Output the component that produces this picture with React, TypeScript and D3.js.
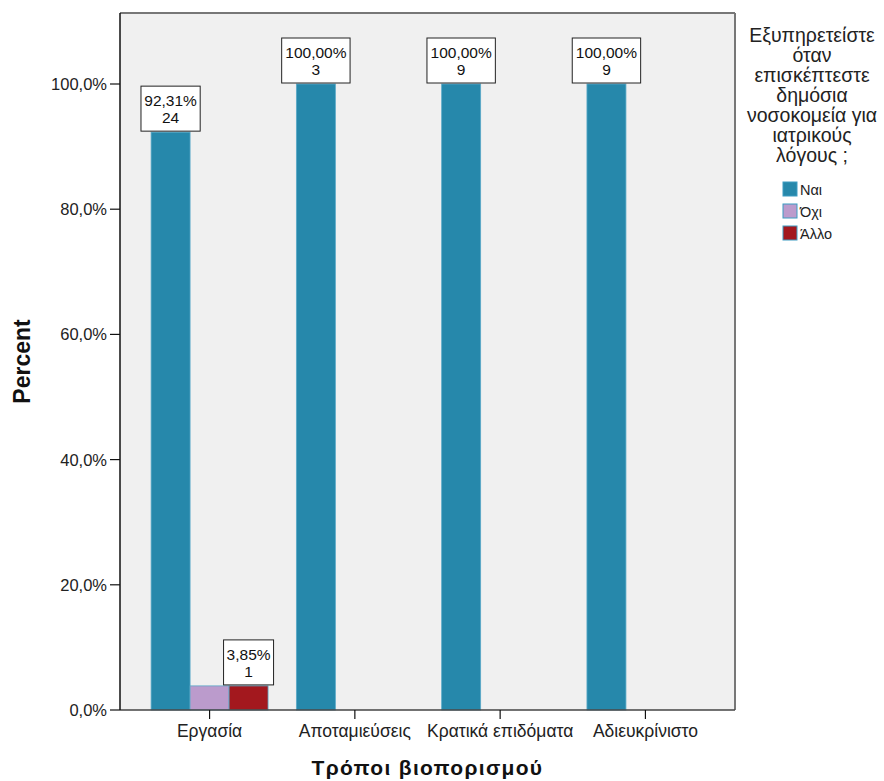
import React from 'react';
import * as d3 from 'd3';

const categories = ['Εργασία', 'Αποταμιεύσεις', 'Κρατικά επιδόματα', 'Αδιευκρίνιστο'];
const seriesNames = ['Ναι', 'Όχι', 'Άλλο'];
const seriesColors = ['#2688AB', '#BB9BCC', '#A3181E'];
const percentNai = [92.31, 100, 100, 100];
const percentOxi = [3.85, 0, 0, 0];
const percentAllo = [3.85, 0, 0, 0];
const countNai = [24, 3, 9, 9];
const countOxi = [1, 0, 0, 0];
const countAllo = [1, 0, 0, 0];
const labelNai = [true, true, true, true];
const labelOxi = [false, false, false, false];
const labelAllo = [true, false, false, false];
const yTicks = [0, 20, 40, 60, 80, 100];
const legendTitle = ['Εξυπηρετείστε', 'όταν', 'επισκέπτεστε', 'δημόσια', 'νοσοκομεία για', 'ιατρικούς', 'λόγους ;'];

const W = 884, H = 781;
const plotLeft = 120, plotRight = 735, plotTop = 13, plotBottom = 710;
const FONT = '"Liberation Sans", Arial, sans-serif';

const fmt = (v: number, d: number) => v.toFixed(d).replace('.', ',');

export default function App() {
  const y = d3.scaleLinear().domain([0, 100]).range([plotBottom, 84]);
  const x0 = d3.scaleBand<string>().domain(categories).range([plotLeft, plotRight]).paddingInner(0.195).paddingOuter(0.214);
  const x1 = d3.scaleBand<string>().domain(seriesNames).range([0, x0.bandwidth()]);
  const percents = [percentNai, percentOxi, percentAllo];
  const counts = [countNai, countOxi, countAllo];
  const labels = [labelNai, labelOxi, labelAllo];

  const bars: any[] = [];
  const boxes: any[] = [];
  categories.forEach((c, ci) => {
    seriesNames.forEach((s, si) => {
      const v = percents[si][ci];
      if (v <= 0) return;
      const bx = (x0(c) as number) + (x1(s) as number);
      const bw = x1.bandwidth();
      bars.push(
        <rect key={`b-${ci}-${si}`} x={bx} y={y(v)} width={bw} height={plotBottom - y(v)}
          fill={seriesColors[si]} stroke="#5aa9c8" strokeWidth={0.8} />
      );
      if (labels[si][ci]) {
        const t1 = fmt(v, 2) + '%';
        const t2 = String(counts[si][ci]);
        const tw = t1.length * 9.2 + 4;
        const cx = bx + bw / 2;
        const top = y(v) - 46;
        boxes.push(
          <g key={`l-${ci}-${si}`}>
            <rect x={cx - tw / 2} y={top} width={tw} height={45} fill="#fff" stroke="#222" strokeWidth={1} />
            <text x={cx} y={top + 20} textAnchor="middle" fontSize={15.5} fontFamily={FONT} fill="#111">{t1}</text>
            <text x={cx} y={top + 37} textAnchor="middle" fontSize={15.5} fontFamily={FONT} fill="#111">{t2}</text>
          </g>
        );
      }
    });
  });

  return (
    <svg width={W} height={H} style={{ position: 'absolute', left: 0, top: 0, background: '#fff' }}>
      <rect x={plotLeft} y={plotTop} width={plotRight - plotLeft} height={plotBottom - plotTop} fill="#F0F0F0" />
      <line x1={plotLeft} y1={plotTop} x2={plotRight} y2={plotTop} stroke="#777" strokeWidth={2} />
      <line x1={plotRight} y1={plotTop} x2={plotRight} y2={plotBottom} stroke="#777" strokeWidth={2} />
      {bars}
      <line x1={plotLeft} y1={plotBottom} x2={plotRight} y2={plotBottom} stroke="#444" strokeWidth={1.5} />
      <line x1={plotLeft} y1={plotTop} x2={plotLeft} y2={plotBottom} stroke="#111" strokeWidth={1.5} />
      {yTicks.map(t => (
        <g key={t}>
          <line x1={plotLeft - 10} x2={plotLeft} y1={y(t)} y2={y(t)} stroke="#111" strokeWidth={1.2} />
          <text x={plotLeft - 13} y={y(t) + 6} textAnchor="end" fontSize={16.5} fontFamily={FONT} fill="#222">{fmt(t, 1) + '%'}</text>
        </g>
      ))}
      {categories.map(c => {
        const cx = (x0(c) as number) + x0.bandwidth() / 2;
        return (
          <g key={c}>
            <line x1={cx} x2={cx} y1={plotBottom} y2={plotBottom + 9} stroke="#111" strokeWidth={1.2} />
            <text x={cx} y={plotBottom + 27} textAnchor="middle" fontSize={17.5} fontFamily={FONT} fill="#222">{c}</text>
          </g>
        );
      })}
      {boxes}
      <text transform={`translate(30,${(plotTop + plotBottom) / 2}) rotate(-90)`} textAnchor="middle" fontSize={23} fontWeight="bold" fontFamily={FONT} fill="#111">Percent</text>
      <text x={(plotLeft + plotRight) / 2} y={775} textAnchor="middle" fontSize={21} fontWeight="bold" fontFamily={FONT} fill="#111" letterSpacing={1.3}>Τρόποι βιοπορισμού</text>
      {legendTitle.map((l, i) => (
        <text key={l} x={812} y={42 + i * 20} textAnchor="middle" fontSize={19.5} fontFamily={FONT} fill="#222">{l}</text>
      ))}
      {seriesNames.map((s, i) => (
        <g key={s}>
          <rect x={783} y={182 + i * 22} width={14} height={14} fill={seriesColors[i]} stroke="#3d9cc2" strokeWidth={1} />
          <text x={800} y={195 + i * 22} fontSize={14.5} fontFamily={FONT} fill="#222">{s}</text>
        </g>
      ))}
    </svg>
  );
}
